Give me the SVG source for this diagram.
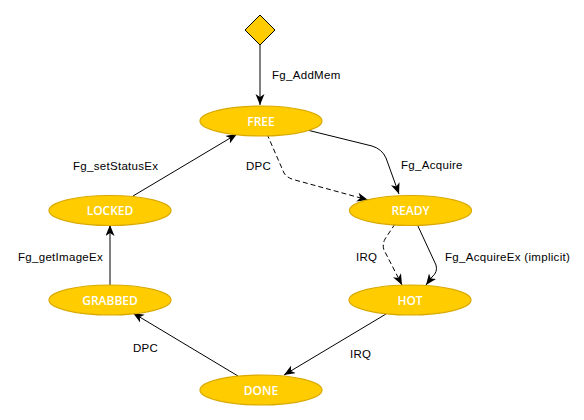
<svg xmlns="http://www.w3.org/2000/svg" width="584" height="420" viewBox="0 0 584 420">
<defs>
<marker id="arr" markerUnits="userSpaceOnUse" markerWidth="13" markerHeight="10" refX="11" refY="4.5" orient="auto">
<path d="M0,0 L11,4.5 L0,9 L3,4.5 Z" fill="#000"/>
</marker>
<style>
.st{fill:#FFCC00;stroke:#D9A900;stroke-width:1.2}
.nl{font-family:"Open Sans","DejaVu Sans",sans-serif;font-size:12px;font-weight:600;fill:#fff;text-anchor:middle}
.el{font-family:"Liberation Sans",Arial,sans-serif;font-size:11.5px;fill:#000;letter-spacing:0.3px}
.ln{fill:none;stroke:#000;stroke-width:1}
.dash{stroke-dasharray:5,3}
</style>
</defs>
<rect width="584" height="420" fill="#fff"/>
<g id="connectors">
<path class="ln" d="M260,45 L260,105" marker-end="url(#arr)"/>
<path class="ln" d="M303,129 L372,146 Q382,149 386,158 L399,194" marker-end="url(#arr)"/>
<path class="ln dash" d="M267,134 L284,173 Q287,178 295,180 L368,200" marker-end="url(#arr)"/>
<path class="ln dash" d="M395,224 L385,239 Q382,245 384,250 L402,285" marker-end="url(#arr)"/>
<path class="ln" d="M417,224 L436,265 Q438,272 432,277 L426,285" marker-end="url(#arr)"/>
<path class="ln" d="M386,314 L284,375" marker-end="url(#arr)"/>
<path class="ln" d="M238,376 L133,313" marker-end="url(#arr)"/>
<path class="ln" d="M110,285 L110,225" marker-end="url(#arr)"/>
<path class="ln" d="M133,196 L237,134" marker-end="url(#arr)"/>
<text class="el" x="272" y="79">Fg_AddMem</text>
<text class="el" x="401" y="169">Fg_Acquire</text>
<text class="el" x="246" y="170">DPC</text>
<text class="el" x="73" y="170">Fg_setStatusEx</text>
<text class="el" x="18" y="261">Fg_getImageEx</text>
<text class="el" x="356" y="261">IRQ</text>
<text class="el" x="445" y="261">Fg_AcquireEx (implicit)</text>
<text class="el" x="133" y="352">DPC</text>
<text class="el" x="350" y="358">IRQ</text>
</g>
<g id="start"><path d="M260,15 L275,30 L260,45 L245,30 Z" fill="#FFCC00" stroke="#000" stroke-width="1"/></g>
<g id="FREE"><ellipse class="st" cx="261" cy="121" rx="61" ry="15"/><text class="nl" x="261" y="125.5">FREE</text></g>
<g id="READY"><ellipse class="st" cx="410.5" cy="210.5" rx="61" ry="15"/><text class="nl" x="410.5" y="215">READY</text></g>
<g id="HOT"><ellipse class="st" cx="410" cy="300" rx="61" ry="15"/><text class="nl" x="410" y="304.5">HOT</text></g>
<g id="DONE"><ellipse class="st" cx="261" cy="390" rx="61" ry="15"/><text class="nl" x="261" y="394.5">DONE</text></g>
<g id="LOCKED"><ellipse class="st" cx="110" cy="210.5" rx="61" ry="15"/><text class="nl" x="110" y="215">LOCKED</text></g>
<g id="GRABBED"><ellipse class="st" cx="110" cy="300" rx="61" ry="15"/><text class="nl" x="110" y="304.5">GRABBED</text></g>
</svg>
